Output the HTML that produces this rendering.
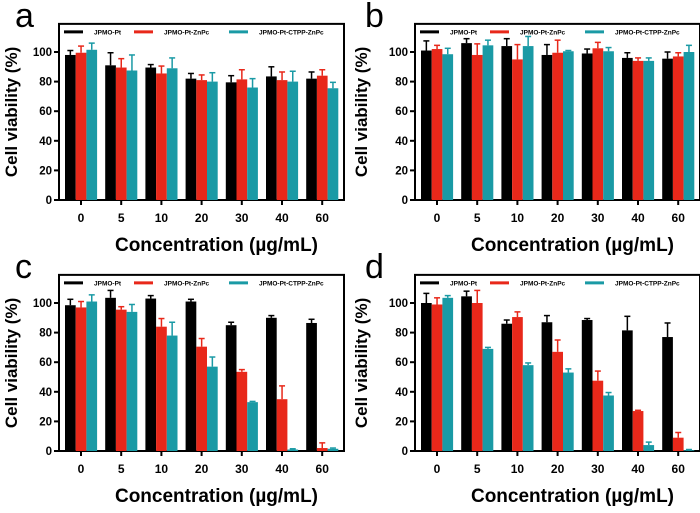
<!DOCTYPE html>
<html><head><meta charset="utf-8"><style>
body{margin:0;background:#fff;}
svg{display:block;font-family:"Liberation Sans",Arial,sans-serif;}
</style></head><body>
<svg id="fig" width="700" height="513" viewBox="0 0 700 513" xmlns="http://www.w3.org/2000/svg"></svg>
<script>
const categories=["0","5","10","20","30","40","60"];
const yTicks=[0,20,40,60,80,100];
const seriesNames=["JPMO-Pt","JPMO-Pt-ZnPc","JPMO-Pt-CTPP-ZnPc"];
const a_pt=[98,91,89.5,82,79.5,83.5,82];
const a_pt_err=[3,8.5,2,3.5,4.5,6.5,4.5];
const a_znpc=[99.5,89.5,85.5,81,81.5,81,84];
const a_znpc_err=[4.5,6,5,3.5,6.5,5.5,4];
const a_ctpp=[101.5,87.5,89,80,76,80,75.5];
const a_ctpp_err=[4.5,10.5,7,6,6,7,4];
const b_pt=[101,106,104,98,99,96,95.5];
const b_pt_err=[6.5,3,5,7,3,3.5,4.5];
const b_znpc=[102,98,95,99.5,102.5,94,97];
const b_znpc_err=[2.5,7.5,10,8.5,4,2,2.5];
const b_ctpp=[98.5,104.5,104,100.5,100.5,94,100];
const b_ctpp_err=[4,3.5,6.5,0.5,2.5,2,4.5];
const c_pt=[98.5,103.5,103,101,85,90,86.5];
const c_pt_err=[4,5,2,1.5,2,1.5,2.5];
const c_znpc=[97,95.5,84,70.5,53.5,35,2];
const c_znpc_err=[4,2,5.5,5.5,1.5,9,3.5];
const c_ctpp=[101,94,78,57,33,1,1.5];
const c_ctpp_err=[4.5,5,9,6.5,0.5,0.5,0.5];
const d_pt=[100,104.5,86,87,88.5,81.5,77];
const d_pt_err=[6.5,3.5,2.5,4.5,1,9.5,9.5];
const d_znpc=[99,100,90.5,67,47.5,27,9];
const d_znpc_err=[4.5,8.5,3.5,8,6.5,0.5,3.5];
const d_ctpp=[103.5,69,58,53,37.5,4,0.5];
const d_ctpp_err=[1.5,1,1.5,2.5,2,2,0.5];

const colors=["#000000","#e8281a","#1a9aa5"];
const svg=document.getElementById('fig');
const NS="http://www.w3.org/2000/svg";
function mk(tag,attrs,parent,text){const e=document.createElementNS(NS,tag);for(const k in attrs)e.setAttribute(k,attrs[k]);if(text!==undefined)e.textContent=text;(parent||svg).appendChild(e);return e;}

function panel(id,label,ox,oy,boxL,c0,series,errs){
  const g=mk('g',{});
  
  
  const right=boxL+285;
  const yS=v=>oy+200-v*1.48;
  const xS=i=>c0+i*40.2;
  const boxTop=yS(119);
  const fr=mk('rect',{x:boxL,y:boxTop,width:right-boxL,height:yS(0)-boxTop,fill:'none',stroke:'#000','stroke-width':2},g);
  
  
  const pl=mk('text',{x:ox+15,y:oy+27,'font-size':34},g,label);
  
  
  yTicks.forEach(t=>{
    mk('line',{x1:boxL-5,x2:boxL,y1:yS(t),y2:yS(t),stroke:'#000','stroke-width':2},g);
    const tl=mk('text',{x:boxL-7,y:yS(t)+4,'font-size':11.5,'font-weight':'bold','text-anchor':'end'},g,t);
    
    
  });
  categories.forEach((c,i)=>{
    mk('line',{x1:xS(i),x2:xS(i),y1:yS(0),y2:yS(0)+5,stroke:'#000','stroke-width':2},g);
    const tl=mk('text',{x:xS(i),y:yS(0)+22,'font-size':12,'font-weight':'bold','text-anchor':'middle'},g,c);
    
    
  });
  const bw=10.7;
  series.forEach((vals,s)=>{
    vals.forEach((v,i)=>{
      const x=xS(i)-16+s*bw;
      const e=errs[s][i];
      mk('line',{x1:x+bw/2,x2:x+bw/2,y1:yS(v),y2:yS(v+e),stroke:colors[s],'stroke-width':1.5},g);
      mk('line',{x1:x+bw/2-3,x2:x+bw/2+3,y1:yS(v+e),y2:yS(v+e),stroke:colors[s],'stroke-width':1.5},g);
      const r=mk('rect',{x:x,y:yS(v),width:bw,height:yS(0)-yS(v),fill:colors[s]},g);
      
      
    });
  });
  const ly=boxTop+8;
  const lx=[boxL+5,boxL+75,boxL+170];
  seriesNames.forEach((n,s)=>{
    mk('line',{x1:lx[s],x2:lx[s]+19,y1:ly,y2:ly,stroke:colors[s],'stroke-width':3},g);
    const lt=mk('text',{x:lx[s]+30,y:ly+2.5,'font-size':6.5,'font-weight':'bold'},g,n);
    
    
  });
  const yl=mk('text',{x:0,y:0,'font-size':17,'font-weight':'bold','text-anchor':'middle',transform:`translate(${ox+17},${(boxTop+yS(0))/2}) rotate(-90)`},g,'Cell viability (%)');
  
  
  const xl=mk('text',{x:(boxL+right)/2+15,y:yS(0)+51,'font-size':19,'font-weight':'bold','text-anchor':'middle'},g,'Concentration (\u00b5g/mL)');
  
  
}
panel('a','a',0,0,59,81,[a_pt,a_znpc,a_ctpp],[a_pt_err,a_znpc_err,a_ctpp_err]);
panel('b','b',350,0,415,437,[b_pt,b_znpc,b_ctpp],[b_pt_err,b_znpc_err,b_ctpp_err]);
panel('c','c',0,251,59,81,[c_pt,c_znpc,c_ctpp],[c_pt_err,c_znpc_err,c_ctpp_err]);
panel('d','d',350,251,415,437,[d_pt,d_znpc,d_ctpp],[d_pt_err,d_znpc_err,d_ctpp_err]);
</script>
</body></html>
